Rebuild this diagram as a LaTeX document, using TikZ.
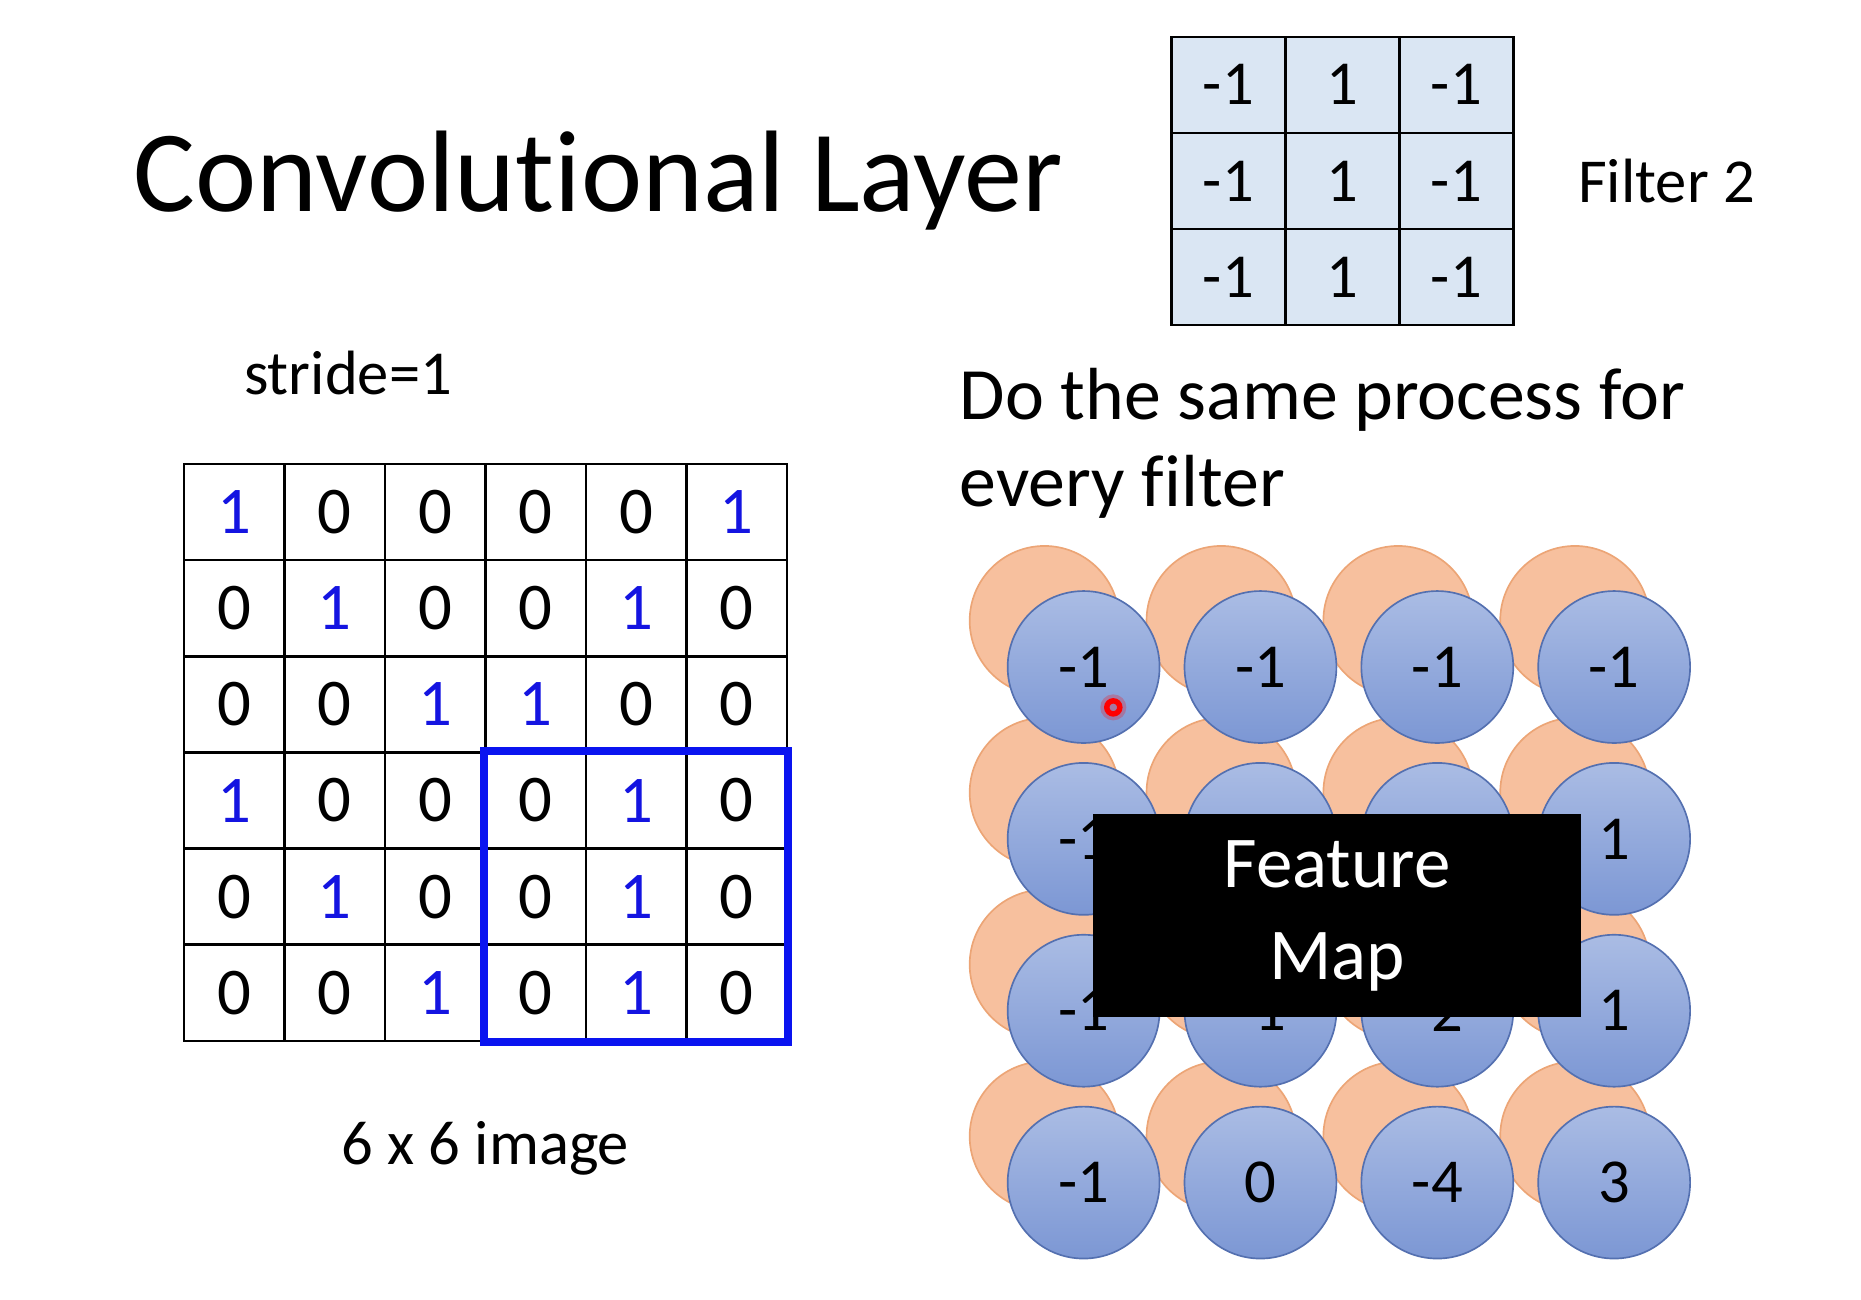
\documentclass[tikz,border=0pt]{standalone}
\usepackage{fontspec}
\setmainfont{Carlito}[Ligatures=NoCommon]
\usepackage{xcolor}
\definecolor{pixBlue}{RGB}{20, 20, 225}
\definecolor{strideBlue}{RGB}{10, 20, 240}
\definecolor{filtFill}{RGB}{218, 230, 243}
\definecolor{mapBlueTop}{RGB}{170, 188, 228}
\definecolor{mapBlueBot}{RGB}{124, 151, 212}
\definecolor{mapBlueLine}{RGB}{84, 112, 176}
\definecolor{mapOrange}{RGB}{247, 192, 158}
\definecolor{mapOrangeLine}{RGB}{236, 165, 118}
\usepackage{tikz}
\usetikzlibrary{positioning}

\begin{document}
\begin{tikzpicture}[
  pix/.style={draw, rectangle, minimum width=0.847cm, minimum height=0.81cm,
              inner sep=0pt, line width=0.6pt, font=\fontsize{16}{16}\selectfont},
  filt/.style={pix, fill=filtFill, minimum width=0.96cm, font=\fontsize{15}{15}\selectfont},
  fmap/.style={circle, draw=mapBlueLine, line width=0.4pt, minimum size=1.28cm, inner sep=0pt,
               top color=mapBlueTop, bottom color=mapBlueBot, font=\fontsize{15}{15}\selectfont},
  fback/.style={circle, draw=mapOrangeLine, line width=0.4pt, minimum size=1.26cm,
                inner sep=0pt, fill=mapOrange},
  lbl/.style={font=\fontsize{15}{18}\selectfont, inner sep=0pt},
]
\useasboundingbox (0,0) rectangle (15.68,-10.95);

%% -- title and filter -------------------------------------------
\node[anchor=base west, inner sep=0pt, font=\fontsize{27.8}{33}\selectfont]
  (title) at (1.12,-1.78) {Convolutional Layer};
\foreach \r in {1,2,3}
  \foreach \v [count=\c] in {-1,1,-1}
    \node[filt] (f-\r-\c) at ({9.87+0.96*(\c-0.5)}, {-0.31-0.81*(\r-0.5)}) {\v};
\node[lbl, right=0.53cm of f-2-3] (fname) {Filter 2};

%% -- 6 x 6 image ------------------------------------------------
\node[lbl, anchor=base west] (stride) at (2.05,-3.32) {stride=1};
\foreach \row [count=\r] in {{1,0,0,0,0,1},{0,1,0,0,1,0},{0,0,1,1,0,0},
                            {1,0,0,0,1,0},{0,1,0,0,1,0},{0,0,1,0,1,0}}
  \foreach \v [count=\c] in \row
    \node[pix] (g-\r-\c) at ({1.55+0.8467*(\c-0.5)}, {-3.91-0.81*(\r-0.5)})
      {\ifnum\v=1 \color{pixBlue}\fi\v};
\draw[strideBlue, line width=2pt] (g-4-4.north west) rectangle (g-6-6.south east);
\node[lbl, anchor=base] (imgname) at (4.09,-9.81) {6 x 6 image};

%% -- feature maps -----------------------------------------------
\node[anchor=base west, inner sep=0pt, align=left, font=\fontsize{17.7}{21}\selectfont]
  (note) at (8.08,-4.27) {Do the same process for\\every filter};
\foreach \r in {1,...,4}
  \foreach \c in {1,...,4}
    \node[fback] (o-\r-\c) at ({9.13+1.49*(\c-1)-0.33}, {-5.62-1.448*(\r-1)+0.39}) {};
% middle of row 2 sits fully under the black box
\foreach \row [count=\r] in {{-1,-1,-1,-1},{-1,{},{},1},{-1,-1,-2,1},{-1,0,-4,3}}
  \foreach \v [count=\c] in \row
    \node[fmap] (b-\r-\c) at ({9.13+1.49*(\c-1)}, {-5.62-1.448*(\r-1)}) {\v};
\fill[red, opacity=0.25] (9.38,-5.96) circle (0.11);
\node[circle, draw=red, line width=1.3pt, minimum size=0.11cm, inner sep=0pt] (ptr) at (9.38,-5.96) {};
\node[fill=black, text=white, minimum width=4.11cm, minimum height=1.71cm, align=center,
      font=\fontsize{17.5}{22}\selectfont] (fm) at (11.265,-7.715) {Feature\\Map};
\end{tikzpicture}
\end{document}
